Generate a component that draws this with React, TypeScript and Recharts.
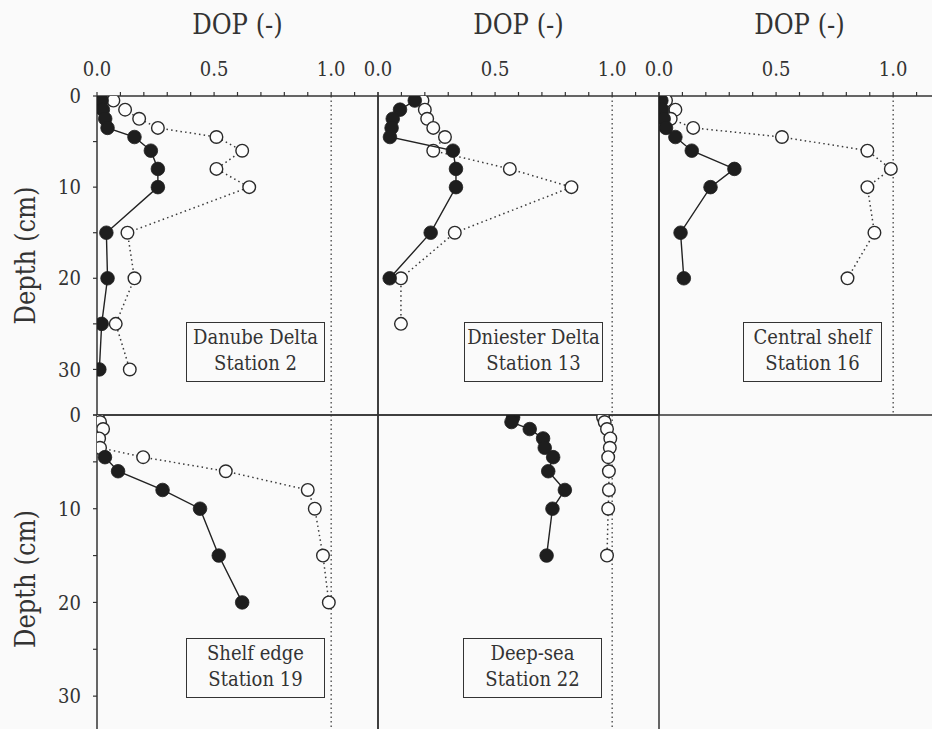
import React from 'react';
import { ScatterChart, Scatter, XAxis, YAxis, ReferenceLine } from 'recharts';

// ---------- data (DOP vs depth) ----------
const danubeDepths = [0.5, 1.5, 2.5, 3.5, 4.5, 6, 8, 10, 15, 20, 25, 30];
const danubeFilled = [0.02, 0.025, 0.035, 0.045, 0.16, 0.23, 0.26, 0.26, 0.04, 0.045, 0.02, 0.01];
const danubeOpen = [0.07, 0.12, 0.18, 0.26, 0.51, 0.62, 0.51, 0.65, 0.13, 0.16, 0.08, 0.14];

const dniesterFilledDepths = [0.5, 1.5, 2.5, 3.5, 4.5, 6, 8, 10, 15, 20];
const dniesterFilled = [0.157, 0.094, 0.063, 0.058, 0.051, 0.32, 0.333, 0.333, 0.225, 0.05];
const dniesterOpenDepths = [0.5, 1.5, 2.5, 3.5, 4.5, 6, 8, 10, 15, 20, 25];
const dniesterOpen = [0.19, 0.2, 0.21, 0.236, 0.286, 0.236, 0.563, 0.826, 0.328, 0.098, 0.098];

const centralDepths = [0.5, 1.5, 2.5, 3.5, 4.5, 6, 8, 10, 15, 20];
const centralFilled = [0.01, 0.013, 0.02, 0.03, 0.07, 0.14, 0.322, 0.22, 0.092, 0.106];
const centralOpen = [0.03, 0.07, 0.05, 0.146, 0.525, 0.89, 0.99, 0.89, 0.92, 0.805];

const shelfFilledDepths = [4.5, 6, 8, 10, 15, 20];
const shelfFilled = [0.034, 0.09, 0.28, 0.44, 0.52, 0.62];
const shelfOpenDepths = [0.2, 0.75, 1.5, 2.5, 3.5, 4.5, 6, 8, 10, 15, 20];
const shelfOpen = [0.003, 0.013, 0.026, 0.009, 0.013, 0.197, 0.55, 0.9, 0.93, 0.965, 0.99];

const deepDepths = [0.25, 0.75, 1.5, 2.5, 3.5, 4.5, 6, 8, 10, 15];
const deepFilled = [0.577, 0.57, 0.648, 0.705, 0.712, 0.748, 0.727, 0.798, 0.745, 0.72];
const deepOpen = [0.961, 0.968, 0.978, 0.992, 0.99, 0.983, 0.986, 0.986, 0.983, 0.978];

const panelTitles = [
  ['Danube Delta', 'Station 2'],
  ['Dniester Delta', 'Station 13'],
  ['Central shelf', 'Station 16'],
  ['Shelf edge', 'Station 19'],
  ['Deep-sea', 'Station 22'],
];

const xTicks = [0, 0.1, 0.2, 0.3, 0.4, 0.5, 0.6, 0.7, 0.8, 0.9, 1.0, 1.1, 1.2];
const xTickLabels: Record<string, string> = { '0': '0.0', '0.5': '0.5', '1': '1.0' };
const yTicks = [0, 5, 10, 15, 20, 25, 30, 35];
const yTickLabels: Record<string, string> = { '0': '0', '10': '10', '20': '20', '30': '30' };
const xTitle = 'DOP (-)';
const yTitle = 'Depth (cm)';

// ---------- layout ----------
const FONT = "'DejaVu Serif', serif";
const STRETCH = 'condensed';
const INK = '#333333';
const COL_X = [97, 378, 659];
const PLOT_W = 281;
const ROW_TOP = [96, 415];
const ROW_H = [319, 320];
const BOX_LEFT = [89, 86, 84, 89, 85];
const BOX_TOP = [226, 223];

type Pt = { dop: number; depth: number };
const zip = (depths: number[], dops: number[]): Pt[] => depths.map((d, i) => ({ depth: d, dop: dops[i] }));

const panels = [
  { row: 0, col: 0, filled: zip(danubeDepths, danubeFilled), open: zip(danubeDepths, danubeOpen) },
  { row: 0, col: 1, filled: zip(dniesterFilledDepths, dniesterFilled), open: zip(dniesterOpenDepths, dniesterOpen) },
  { row: 0, col: 2, filled: zip(centralDepths, centralFilled), open: zip(centralDepths, centralOpen) },
  { row: 1, col: 0, filled: zip(shelfFilledDepths, shelfFilled), open: zip(shelfOpenDepths, shelfOpen) },
  { row: 1, col: 1, filled: zip(deepDepths, deepFilled), open: zip(deepDepths, deepOpen) },
];

const FilledDot = (props: any) => {
  const { cx, cy } = props;
  if (cx == null || cy == null) return null;
  return <circle cx={cx} cy={cy} r={6.8} fill="#1e1e1e" stroke="#1e1e1e" strokeWidth={0.8} />;
};
const OpenDot = (props: any) => {
  const { cx, cy } = props;
  if (cx == null || cy == null) return null;
  return <circle cx={cx} cy={cy} r={6.3} fill="#fdfdfd" stroke="#2a2a2a" strokeWidth={1.4} />;
};

const L = 90;
const R = 10;

function Panel({ p, idx }: { p: (typeof panels)[number]; idx: number }) {
  const isTop = p.row === 0;
  const x0 = COL_X[p.col];
  const plotTop = ROW_TOP[p.row];
  const plotH = ROW_H[p.row];
  const topAxisH = isTop ? 96 : 24;
  const B = 8;
  const width = L + PLOT_W + R;
  const height = topAxisH + plotH + B;
  const showY = p.col === 0;
  const axisStroke = { stroke: INK, strokeWidth: 1.5 };
  const tickStyle = { fontSize: 20, fill: INK, fontFamily: FONT, fontStretch: STRETCH };

  const xTitleLabel = (lp: any) => {
    const vb = lp.viewBox || {};
    return (
      <text x={vb.x + vb.width / 2} y={34} textAnchor="middle" fontSize={27} fill={INK} style={{ fontFamily: FONT, fontStretch: STRETCH }}>
        {xTitle}
      </text>
    );
  };
  const yTitleLabel = (lp: any) => {
    const vb = lp.viewBox || {};
    const cx = 35 - (x0 - L);
    const cy = vb.y + vb.height / 2;
    return (
      <text x={cx} y={cy} transform={`rotate(-90, ${cx}, ${cy})`} textAnchor="middle" fontSize={27} fill={INK} style={{ fontFamily: FONT, fontStretch: STRETCH }}>
        {yTitle}
      </text>
    );
  };

  return (
    <>
      <div style={{ position: 'absolute', left: x0 - L, top: plotTop - topAxisH }}>
        <ScatterChart width={width} height={height} margin={{ top: 0, right: 0, bottom: 0, left: 0 }}>
          <XAxis
            xAxisId="t"
            type="number"
            dataKey="dop"
            orientation="top"
            domain={[0, 1.2]}
            ticks={xTicks}
            interval={0}
            allowDataOverflow
            height={topAxisH}
            axisLine={axisStroke}
            tickLine={{ stroke: INK, strokeWidth: 1.2 }}
            tickSize={isTop ? 4 : 3}
            tickMargin={16}
            tick={isTop ? tickStyle : false}
            tickFormatter={(v: number) => xTickLabels[String(Math.round(v * 10) / 10)] ?? ''}
            label={isTop ? { content: xTitleLabel } : undefined}
          />
          {isTop && (
            <XAxis
              xAxisId="b"
              type="number"
              orientation="bottom"
              domain={[0, 1.2]}
              height={B}
              tick={false}
              tickLine={false}
              axisLine={axisStroke}
            />
          )}
          <YAxis
            yAxisId="l"
            type="number"
            dataKey="depth"
            reversed
            domain={[0, 35]}
            ticks={yTicks}
            interval={0}
            allowDataOverflow
            width={L}
            axisLine={axisStroke}
            tickLine={{ stroke: INK, strokeWidth: 1.2 }}
            tickSize={4}
            tickMargin={12}
            tick={showY ? tickStyle : false}
            tickFormatter={(v: number) => yTickLabels[String(v)] ?? ''}
            label={showY ? { content: yTitleLabel } : undefined}
          />
          <YAxis
            yAxisId="r"
            type="number"
            orientation="right"
            reversed
            domain={[0, 35]}
            ticks={yTicks}
            interval={0}
            width={R}
            axisLine={axisStroke}
            tickLine={{ stroke: INK, strokeWidth: 1.2 }}
            tickSize={4}
            tick={false}
          />
          <ReferenceLine
            xAxisId="t"
            yAxisId="l"
            x={1}
            stroke="#444"
            strokeWidth={1.3}
            strokeDasharray="1.5 3"
          />
          <Scatter
            xAxisId="t"
            yAxisId="l"
            data={p.open}
            isAnimationActive={false}
            line={{ stroke: '#3a3a3a', strokeWidth: 1.5, strokeDasharray: '1.5 3.2' }}
            shape={OpenDot}
          />
          <Scatter
            xAxisId="t"
            yAxisId="l"
            data={p.filled}
            isAnimationActive={false}
            line={{ stroke: '#222', strokeWidth: 1.4 }}
            shape={FilledDot}
          />
        </ScatterChart>
      </div>
      <div
        style={{
          position: 'absolute',
          left: x0 + BOX_LEFT[idx],
          top: plotTop + BOX_TOP[p.row],
          width: 139,
          height: 60,
          boxSizing: 'border-box',
          border: `1.5px solid ${INK}`,
          fontFamily: FONT,
          fontStretch: STRETCH,
          fontSize: 20,
          lineHeight: '26px',
          color: INK,
          textAlign: 'center',
          paddingTop: 1,
          whiteSpace: 'nowrap',
        }}
      >
        <div>{panelTitles[idx][0]}</div>
        <div>{panelTitles[idx][1]}</div>
      </div>
    </>
  );
}

export default function App() {
  return (
    <div
      style={{
        position: 'absolute',
        left: 0,
        top: 0,
        width: 932,
        height: 729,
        overflow: 'hidden',
        background: '#fafafa',
      }}
    >
      {panels.map((p, i) => (
        <Panel key={i} p={p} idx={i} />
      ))}
    </div>
  );
}
